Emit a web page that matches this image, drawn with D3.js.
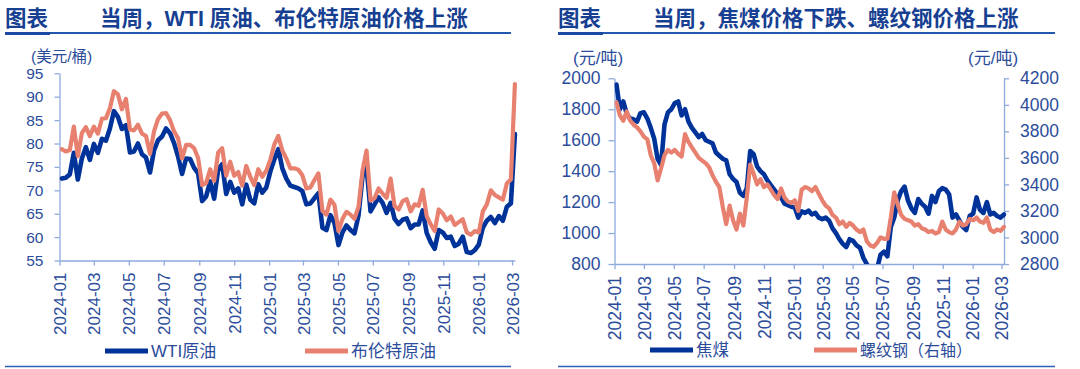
<!DOCTYPE html>
<html><head><meta charset="utf-8">
<script src="https://cdn.jsdelivr.net/npm/d3@7"></script>
<style>body{margin:0;background:#fff}svg{display:block}</style>
</head><body>
<svg id="c" width="1080" height="369"></svg>
<script>
// ---------- data ----------
const firstWeek = "2024-01-05";   // weekly (Friday) observations
const xTickLabels = ["2024-01","2024-03","2024-05","2024-07","2024-09","2024-11","2025-01","2025-03","2025-05","2025-07","2025-09","2025-11","2026-01","2026-03"];
const oilTicks = [55,60,65,70,75,80,85,90,95];
const coalTicks = [800,1000,1200,1400,1600,1800,2000];
const rebarTicks = [2800,3000,3200,3400,3600,3800,4000,4200];

const wti = [
72.5,72.7,73.4,78.0,72.3,76.8,79.2,76.5,79.9,78.0,
81.0,80.6,83.2,86.9,85.7,83.1,83.9,78.1,78.3,80.0,
77.7,77.0,73.8,78.5,80.7,81.5,83.2,82.2,80.1,77.2,
73.5,76.8,76.7,74.8,73.6,67.7,68.7,71.9,68.2,74.4,
75.6,69.2,71.8,69.5,70.4,67.0,71.2,68.0,67.2,71.3,
69.5,70.6,74.0,76.6,78.8,74.7,72.5,71.0,70.7,70.4,
69.8,67.0,67.2,68.3,69.4,62.0,61.5,64.7,63.0,58.3,
61.0,62.5,61.5,60.8,64.6,73.0,74.9,65.5,67.0,68.5,
67.3,65.2,67.3,63.9,62.8,63.7,64.0,61.9,62.7,62.7,
65.7,60.9,58.9,57.5,61.5,61.0,59.8,60.1,58.1,58.6,
60.1,56.8,56.6,57.2,58.4,62.0,63.5,64.3,63.0,64.5,
63.5,66.5,67.2,82.0];
const brent = [
78.8,78.3,78.6,83.6,77.3,82.2,83.5,81.6,83.6,82.1,
85.3,85.4,87.5,91.2,90.5,87.3,89.5,83.0,82.8,84.0,
82.1,81.6,77.8,82.6,85.2,86.4,86.5,85.0,82.6,81.1,
76.8,79.7,79.7,79.0,76.9,71.1,71.6,74.5,72.0,78.1,
79.0,73.1,76.1,73.1,73.9,71.0,75.2,72.9,71.1,74.5,
72.9,74.2,76.5,79.8,81.6,78.5,76.8,74.7,74.7,74.4,
73.2,70.4,70.6,72.2,73.6,65.6,64.8,68.0,66.9,61.3,
63.9,65.4,64.8,63.9,66.5,74.2,78.5,67.8,68.3,70.4,
69.3,68.4,72.5,66.6,65.9,67.7,68.1,65.5,67.0,66.7,
70.1,64.5,62.7,61.3,65.9,65.1,63.6,64.4,62.6,63.2,
63.8,61.0,60.5,61.3,61.0,65.5,67.0,70.0,69.0,68.5,
68.0,71.5,72.3,92.7];
const cokingCoal = [
1960,1800,1850,1770,1740,1735,1720,1775,1780,1740,
1680,1610,1480,1440,1700,1780,1800,1840,1850,1760,
1800,1720,1680,1650,1620,1640,1600,1590,1580,1520,
1500,1480,1470,1380,1350,1330,1260,1240,1290,1530,
1510,1430,1400,1380,1340,1310,1280,1250,1230,1190,
1180,1170,1165,1100,1140,1130,1145,1120,1130,1100,
1090,1100,1080,1030,1000,960,930,910,960,950,
920,905,840,800,760,740,770,860,880,850,
1040,1100,1210,1270,1300,1210,1160,1130,1220,1190,
1170,1125,1240,1200,1270,1290,1280,1250,1100,1120,
1080,1040,1020,1110,1125,1230,1150,1130,1200,1120,
1130,1110,1100,1120];
const rebar = [
4020,3920,3880,3950,3880,3850,3830,3800,3760,3740,
3620,3560,3430,3520,3620,3660,3640,3660,3630,3610,
3780,3720,3680,3640,3600,3580,3560,3530,3470,3420,
3380,3230,3100,3240,3130,3060,3180,3090,3300,3550,
3480,3400,3440,3380,3400,3360,3320,3290,3370,3300,
3270,3260,3280,3200,3360,3380,3370,3350,3380,3330,
3280,3240,3220,3170,3150,3100,3120,3080,3110,3090,
3060,3040,3060,2970,2940,2930,2960,3000,2990,2990,
3150,3340,3250,3170,3140,3130,3120,3090,3100,3070,
3060,3040,3050,3030,3040,3120,3060,3040,3030,3060,
3120,3090,3100,3140,3130,3150,3120,3110,3150,3060,
3040,3060,3050,3080];

// ---------- style ----------
const FONT = "'Liberation Sans','Noto Sans CJK SC',sans-serif";
const TXT = "#2b4c9b", TITLE = "#173f92", AXIS = "#8eaadc";
const BLUE = "#003399", RED = "#e8806f";

const svg = d3.select("#c");
const parseDay = d3.timeParse("%Y-%m-%d");
const parseMonth = d3.timeParse("%Y-%m");
const start = parseDay(firstWeek);
const weeks = wti.map((_, i) => d3.timeDay.offset(start, 7 * i));
const tickDates = xTickLabels.map(parseMonth);
const xDomain = [parseDay("2024-01-01"), parseDay("2026-03-06")];

function titleBlock(x0, x1, x2, text) {
  svg.append("text").attr("x", x0).attr("y", 26).text("图表")
    .attr("font-family", FONT).attr("font-size", 21.5).attr("font-weight", "bold").attr("fill", TITLE);
  svg.append("text").attr("x", x1).attr("y", 26).text(text)
    .attr("font-family", FONT).attr("font-size", 21.5).attr("font-weight", "bold").attr("fill", TITLE);
  svg.append("line").attr("x1", x0).attr("x2", x2).attr("y1", 33).attr("y2", 33)
    .attr("stroke", "#2457b0").attr("stroke-width", 2);
  svg.append("line").attr("x1", x0).attr("x2", x0 + 45).attr("y1", 33.5).attr("y2", 33.5)
    .attr("stroke", "#1c4aa3").attr("stroke-width", 3);
  svg.append("line").attr("x1", x0).attr("x2", x2).attr("y1", 366.5).attr("y2", 366.5)
    .attr("stroke", "#2f5fb5").attr("stroke-width", 1.5);
}
function styleAxis(g, fs) {
  g.select(".domain").attr("stroke", AXIS).attr("stroke-width", 1.3);
  g.selectAll(".tick line").attr("stroke", AXIS).attr("stroke-width", 1.3);
  g.selectAll(".tick text").attr("fill", TXT).attr("font-family", FONT).attr("font-size", fs);
}
function xAxis(x, y0, fs) {
  const g = svg.append("g").attr("transform", `translate(0,${y0})`)
    .call(d3.axisBottom(x).tickValues(tickDates).tickSize(5).tickSizeOuter(0)
      .tickFormat(d3.timeFormat("%Y-%m")));
  styleAxis(g, fs);
  g.selectAll(".tick text").attr("transform", "rotate(-90)").attr("text-anchor", "end")
    .attr("x", -12).attr("y", 0).attr("dy", "0.36em");
}
function drawLine(x, y, vals, color, w, clipId) {
  svg.append("path").datum(vals)
    .attr("clip-path", `url(#${clipId})`)
    .attr("d", d3.line().x((d, i) => x(weeks[i])).y(d => y(d)))
    .attr("fill", "none").attr("stroke", color).attr("stroke-width", w)
    .attr("stroke-linejoin", "round").attr("stroke-linecap", "round");
}
function legendItem(x, y, color, label, fs) {
  svg.append("line").attr("x1", x).attr("x2", x + 43).attr("y1", y).attr("y2", y)
    .attr("stroke", color).attr("stroke-width", 5);
  svg.append("text").attr("x", x + 46).attr("y", y + 6).text(label)
    .attr("font-family", FONT).attr("font-size", fs).attr("fill", TXT);
}
const defs = svg.append("defs");
const plain = d3.format("d");

// ---------- left chart ----------
titleBlock(5, 100, 511, "当周，WTI 原油、布伦特原油价格上涨");
const xL = d3.scaleTime().domain(xDomain).range([59.5, 514.9]);
const yL = d3.scaleLinear().domain([55, 95]).range([260.5, 73.3]);
defs.append("clipPath").attr("id", "clipL").append("rect")
  .attr("x", 59.5).attr("y", 71).attr("width", 460).attr("height", 189.5);
svg.append("text").attr("x", 31).attr("y", 62).text("(美元/桶)")
  .attr("font-family", FONT).attr("font-size", 15.5).attr("fill", TXT);
const gyL = svg.append("g").attr("transform", "translate(59.5,0)")
  .call(d3.axisLeft(yL).tickValues(oilTicks).tickFormat(plain).tickSize(5).tickPadding(11).tickSizeOuter(0));
styleAxis(gyL, 15.5);
xAxis(xL, 260.5, 17);
drawLine(xL, yL, wti, BLUE, 4.6, "clipL");
drawLine(xL, yL, brent, RED, 4.2, "clipL");
legendItem(105, 351, BLUE, "WTI原油", 17);
legendItem(305, 351, RED, "布伦特原油", 17);

// ---------- right chart ----------
titleBlock(558, 653, 1055, "当周，焦煤价格下跌、螺纹钢价格上涨");
const xR = d3.scaleTime().domain(xDomain).range([614.5, 1004]);
const yR1 = d3.scaleLinear().domain([800, 2000]).range([264, 78.3]);
const yR2 = d3.scaleLinear().domain([2800, 4200]).range([264, 78.3]);
defs.append("clipPath").attr("id", "clipR").append("rect")
  .attr("x", 614.5).attr("y", 76).attr("width", 392).attr("height", 188);
svg.append("text").attr("x", 573).attr("y", 64).text("(元/吨)")
  .attr("font-family", FONT).attr("font-size", 17).attr("fill", TXT);
svg.append("text").attr("x", 968).attr("y", 64).text("(元/吨)")
  .attr("font-family", FONT).attr("font-size", 17).attr("fill", TXT);
const gyR1 = svg.append("g").attr("transform", "translate(614.5,0)")
  .call(d3.axisLeft(yR1).tickValues(coalTicks).tickFormat(plain).tickSize(6).tickPadding(8).tickSizeOuter(0));
styleAxis(gyR1, 17.5);
const gyR2 = svg.append("g").attr("transform", "translate(1004,0)")
  .call(d3.axisRight(yR2).tickValues(rebarTicks).tickFormat(plain).tickSize(5).tickPadding(11).tickSizeOuter(0));
styleAxis(gyR2, 17.5);
xAxis(xR, 264, 17.5);
drawLine(xR, yR1, cokingCoal, BLUE, 4.6, "clipR");
drawLine(xR, yR2, rebar, RED, 4.2, "clipR");
legendItem(650, 350, BLUE, "焦煤", 16.5);
legendItem(814, 350, RED, "螺纹钢（右轴）", 16);
</script>
</body></html>
